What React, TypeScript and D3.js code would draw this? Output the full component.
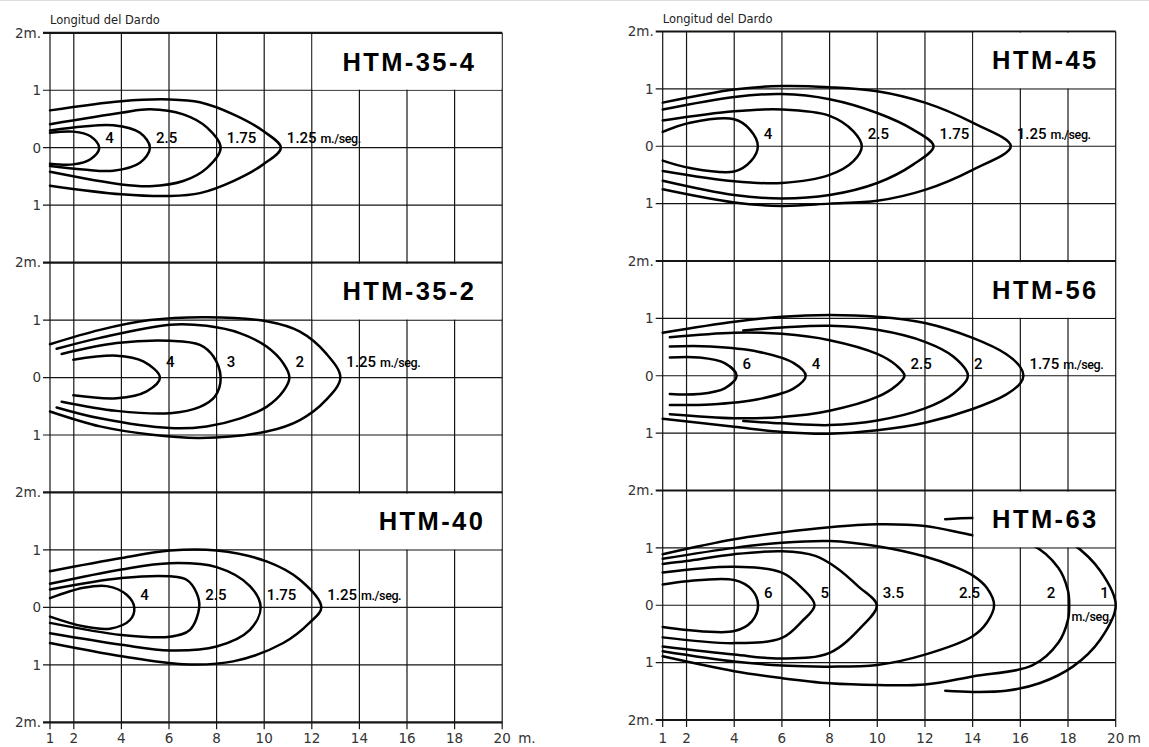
import React from "react";
import * as d3 from "d3";

type Pt = [number, number];

const X_TICKS = [1, 2, 4, 6, 8, 10, 12, 14, 16, 18, 20];
const Y_TICKS = [2, 1, 0, -1, -2];
const Y_TICK_LABELS = ["2m.", "1", "0", "1", "2m."];
const AXIS_TITLE = "Longitud del Dardo";
const UNIT = "m./seg.";

// ---------- HTM-35-4 ----------
const HTM_35_4_SPEEDS = ["4", "2.5", "1.75", "1.25"];
const HTM_35_4_TIPS = [3.07, 5.2, 8.17, 10.7];
const HTM_35_4_UPPER: Pt[][] = [
  [[1, 0.26], [1.98, 0.28], [2.7, 0.2]],
  [[1, 0.3], [2.4, 0.37], [3.66, 0.39], [4.78, 0.26]],
  [[1, 0.41], [4, 0.61], [5.2, 0.67], [6.6, 0.58], [7.6, 0.35]],
  [[1, 0.65], [4, 0.81], [6.04, 0.84], [7.3, 0.79], [8.7, 0.58], [9.96, 0.29]],
];
const HTM_35_4_LOWER: Pt[][] = [
  [[1, -0.28], [1.98, -0.29], [2.7, -0.2]],
  [[1, -0.32], [2.4, -0.38], [3.66, -0.4], [4.78, -0.26]],
  [[1, -0.42], [4, -0.64], [5.2, -0.67], [6.6, -0.58], [7.6, -0.35]],
  [[1, -0.66], [4, -0.81], [6.04, -0.84], [7.3, -0.79], [8.7, -0.58], [9.96, -0.29]],
];

// ---------- HTM-35-2 ----------
const HTM_35_2_SPEEDS = ["4", "3", "2", "1.25"];
const HTM_35_2_TIPS = [5.62, 8.17, 11.06, 13.2];
const HTM_35_2_UPPER: Pt[][] = [
  [[1.98, 0.31], [3.8, 0.38], [4.92, 0.28]],
  [[1.49, 0.41], [3.8, 0.6], [6.04, 0.64], [7.3, 0.57], [7.86, 0.37]],
  [[1.28, 0.5], [3.1, 0.69], [6.04, 0.92], [7.58, 0.9], [9.0, 0.77], [10.1, 0.54], [10.8, 0.25]],
  [[1, 0.58], [3.1, 0.83], [5.2, 1.0], [7.58, 1.05], [10.1, 0.98], [11.5, 0.8], [12.6, 0.42]],
];
const HTM_35_2_LOWER: Pt[][] = [
  [[1.98, -0.31], [3.8, -0.36], [5.06, -0.24]],
  [[1.49, -0.42], [3.8, -0.58], [6.04, -0.62], [7.3, -0.51], [7.93, -0.33]],
  [[1.28, -0.52], [3.1, -0.71], [6.04, -0.88], [7.58, -0.85], [9.0, -0.71], [10.1, -0.51], [10.8, -0.24]],
  [[1, -0.59], [3.1, -0.85], [5.2, -0.99], [7.3, -1.05], [10.1, -0.94], [11.5, -0.74], [12.6, -0.39]],
];

// ---------- HTM-40 ----------
const HTM_40_SPEEDS = ["4", "2.5", "1.75", "1.25"];
const HTM_40_TIPS = [4.54, 7.27, 9.85, 12.4];
const HTM_40_UPPER: Pt[][] = [
  [[1, 0.16], [2.4, 0.34], [3.38, 0.37], [4.22, 0.22]],
  [[1, 0.31], [4, 0.51], [6.04, 0.54], [6.74, 0.48], [7.16, 0.25]],
  [[1, 0.41], [4, 0.66], [6.04, 0.77], [8.0, 0.7], [9.4, 0.37]],
  [[1, 0.63], [4, 0.86], [6.04, 0.99], [8.0, 0.99], [10.1, 0.8], [11.5, 0.48]],
];
const HTM_40_LOWER: Pt[][] = [
  [[1, -0.16], [2.4, -0.33], [3.52, -0.37], [4.36, -0.22]],
  [[1, -0.27], [4, -0.48], [6.04, -0.51], [6.88, -0.39]],
  [[1, -0.45], [4, -0.65], [6.04, -0.75], [8.0, -0.68], [9.4, -0.39]],
  [[1, -0.62], [4, -0.85], [6.6, -0.99], [8.7, -0.94], [10.8, -0.62], [11.9, -0.27]],
];

// ---------- HTM-45 ----------
const HTM_45_SPEEDS = ["4", "2.5", "1.75", "1.25"];
const HTM_45_TIPS = [4.99, 9.35, 12.36, 15.6];
const HTM_45_UPPER: Pt[][] = [
  [[1, 0.25], [2.15, 0.41], [4, 0.47], [4.66, 0.29]],
  [[1, 0.45], [4, 0.61], [6, 0.64], [8, 0.53], [9, 0.26]],
  [[1, 0.64], [4, 0.86], [6, 0.91], [8, 0.82], [10, 0.58], [11.5, 0.29]],
  [[1, 0.76], [4, 0.99], [6, 1.05], [8, 1.03], [10, 0.96], [12, 0.76], [14, 0.41]],
];
const HTM_45_LOWER: Pt[][] = [
  [[1, -0.25], [2.15, -0.38], [4, -0.44], [4.7, -0.26]],
  [[1, -0.43], [4, -0.61], [6, -0.64], [8, -0.5], [9, -0.26]],
  [[1, -0.6], [4, -0.85], [6, -0.91], [8, -0.85], [10, -0.64], [11.5, -0.32]],
  [[1, -0.75], [4, -0.98], [6, -1.04], [8, -1.0], [10, -0.95], [12, -0.76], [14, -0.41]],
];

// ---------- HTM-56 ----------
const HTM_56_SPEEDS = ["6", "4", "2.5", "2", "1.75"];
const HTM_56_TIPS = [4.1, 7.0, 11.14, 13.8, 16.13];
const HTM_56_UPPER: Pt[][] = [
  [[1.3, 0.32], [2.5, 0.32], [3.6, 0.22]],
  [[1.3, 0.51], [3, 0.51], [5, 0.42], [6.5, 0.22]],
  [[1.3, 0.67], [4, 0.75], [6, 0.73], [8, 0.62], [10, 0.38], [10.8, 0.18]],
  [[4.38, 0.79], [6, 0.84], [8, 0.87], [10, 0.8], [12, 0.59], [13.2, 0.33]],
  [[1, 0.75], [4, 0.94], [6, 1.03], [8, 1.06], [10, 1.03], [12, 0.92], [14, 0.66], [15.4, 0.38], [16.0, 0.15]],
];
const HTM_56_LOWER: Pt[][] = [
  [[1.3, -0.32], [2.5, -0.32], [3.6, -0.22]],
  [[1.3, -0.51], [3, -0.5], [5, -0.41], [6.5, -0.22]],
  [[1.3, -0.67], [4, -0.74], [6, -0.72], [8, -0.61], [10, -0.37], [10.8, -0.17]],
  [[4.38, -0.79], [6, -0.83], [8, -0.86], [10, -0.78], [12, -0.57], [13.2, -0.31]],
  [[1, -0.75], [4, -0.89], [6, -0.98], [8, -1.01], [10, -0.95], [12, -0.82], [14, -0.58], [15.4, -0.33], [16.0, -0.13]],
];

// ---------- HTM-63 ----------
const HTM_63_SPEEDS = ["6", "5", "3.5", "2.5", "2", "1"];
const HTM_63_TIPS = [5.0, 7.37, 9.98, 14.9, 18.05, 20.0];
const HTM_63_UPPER: Pt[][] = [
  [[1, 0.36], [2, 0.42], [4, 0.44], [4.74, 0.27]],
  [[1, 0.57], [4, 0.67], [6, 0.57], [6.84, 0.3]],
  [[1, 0.72], [2, 0.77], [4, 0.89], [6, 0.94], [7.4, 0.86], [8.3, 0.65], [9.2, 0.33]],
  [[1, 0.81], [4, 1.0], [6, 1.09], [8, 1.12], [10, 1.03], [12, 0.85], [13.2, 0.68], [14, 0.52], [14.6, 0.3]],
  [[1, 0.89], [4, 1.15], [6, 1.27], [8, 1.36], [10, 1.41], [12, 1.38], [14, 1.22], [16.5, 1.05], [17.6, 0.65], [18.0, 0.25]],
  [[12.85, 1.5], [14, 1.52], [15.4, 1.49], [16.8, 1.36], [18.2, 1.07], [19.35, 0.6]],
];
const HTM_63_LOWER: Pt[][] = [
  [[1, -0.38], [2, -0.43], [4, -0.45], [4.74, -0.28]],
  [[1, -0.56], [4, -0.66], [6, -0.57], [6.84, -0.28]],
  [[1, -0.72], [4, -0.86], [6, -0.93], [8, -0.83], [9.35, -0.37]],
  [[1, -0.8], [4, -0.98], [6, -1.05], [8, -1.07], [10, -1.04], [12, -0.86], [14, -0.54], [14.6, -0.3]],
  [[1, -0.89], [4, -1.15], [6, -1.27], [8, -1.36], [10, -1.39], [12, -1.38], [14, -1.24], [16.5, -1.05], [17.6, -0.65], [18.0, -0.25]],
  [[12.85, -1.49], [14, -1.51], [15.4, -1.49], [16.8, -1.36], [18.2, -1.07], [19.35, -0.6]],
];

// ---------- layout ----------
const COLUMNS = [
  { x0: 50, x1: 502.2, top: 32.8, bottom: 722.3, boxFrom: 12, unitLabel: "m.", unitDx: 16 },
  { x0: 662.7, x1: 1115.7, top: 31.5, bottom: 720, boxFrom: 14, unitLabel: "m", unitDx: 12 },
];

const PANELS = [
  { col: 0, row: 0, name: "HTM-35-4", speeds: HTM_35_4_SPEEDS, tips: HTM_35_4_TIPS, upper: HTM_35_4_UPPER, lower: HTM_35_4_LOWER, titleX: 16.1, labelDy: 5, inside: [] as number[] },
  { col: 0, row: 1, name: "HTM-35-2", speeds: HTM_35_2_SPEEDS, tips: HTM_35_2_TIPS, upper: HTM_35_2_UPPER, lower: HTM_35_2_LOWER, titleX: 16.1, labelDy: 11, inside: [] as number[] },
  { col: 0, row: 2, name: "HTM-40", speeds: HTM_40_SPEEDS, tips: HTM_40_TIPS, upper: HTM_40_UPPER, lower: HTM_40_LOWER, titleX: 17.05, labelDy: 7.5, inside: [] as number[] },
  { col: 1, row: 0, name: "HTM-45", speeds: HTM_45_SPEEDS, tips: HTM_45_TIPS, upper: HTM_45_UPPER, lower: HTM_45_LOWER, titleX: 17.05, labelDy: 7, inside: [] as number[] },
  { col: 1, row: 1, name: "HTM-56", speeds: HTM_56_SPEEDS, tips: HTM_56_TIPS, upper: HTM_56_UPPER, lower: HTM_56_LOWER, titleX: 17.05, labelDy: 7, inside: [] as number[] },
  { col: 1, row: 2, name: "HTM-63", speeds: HTM_63_SPEEDS, tips: HTM_63_TIPS, upper: HTM_63_UPPER, lower: HTM_63_LOWER, titleX: 17.05, labelDy: 7.5, inside: [3, 4, 5] },
];

const INK = "#151515";
const LABEL_FONT = "Roboto, 'Liberation Sans', sans-serif";
const AXIS_FONT = "'DejaVu Sans', sans-serif";

function Panel({ p }: { p: (typeof PANELS)[number] }) {
  const c = COLUMNS[p.col];
  const ph = (c.bottom - c.top) / 3;
  const top = c.top + p.row * ph;
  const xs = d3.scaleLinear().domain([1, 20]).range([c.x0, c.x1]);
  const ys = d3.scaleLinear().domain([2, -2]).range([top, top + ph]);
  const line = d3
    .line<Pt>()
    .x((d) => xs(d[0]))
    .y((d) => ys(d[1]))
    .curve(d3.curveCatmullRom.alpha(0.5));
  const last = p.speeds.length - 1;
  const hasInside = p.inside.length > 0;
  return (
    <g>
      {p.upper.map((up, i) => {
        const pts: Pt[] = [...up, [p.tips[i], 0], ...p.lower[i].slice().reverse()];
        return <path key={i} d={line(pts) || ""} fill="none" stroke="#000" strokeWidth={2.5} strokeLinejoin="round" strokeLinecap="round" />;
      })}
      {p.speeds.map((s, i) => {
        const inside = p.inside.includes(i);
        const isLast = i === last;
        const tx = inside ? xs(p.tips[i]) - (isLast ? 7 : 14) : xs(p.tips[i]) + 6;
        return (
          <text key={s + i} x={tx} y={ys(0) - p.labelDy} textAnchor={inside ? "end" : "start"} fontFamily={LABEL_FONT} fontWeight={500} fontSize={15} fill="#000">
            {s}
            {isLast && !hasInside ? (
              <tspan fontSize={12.5} dx={4} letterSpacing={-0.4}>{UNIT}</tspan>
            ) : null}
          </text>
        );
      })}
      {hasInside ? (
        <text x={xs(p.tips[last]) - 4} y={ys(0) + 16} textAnchor="end" fontFamily={LABEL_FONT} fontWeight={500} fontSize={12.5} letterSpacing={-0.4} fill="#000">
          {UNIT}
        </text>
      ) : null}
      <rect x={xs(c.boxFrom) + 0.8} y={ys(2) + 1.2} width={xs(20) - xs(c.boxFrom) - 1.6} height={ys(1) - ys(2) - 1.8} fill="#fff" />
      <text x={xs(p.titleX)} y={(ys(2) + ys(1)) / 2 + 9} textAnchor="middle" fontFamily="'Liberation Sans', Arial, sans-serif" fontWeight="bold" fontSize={25.5} letterSpacing={2.4} fill="#000">
        {p.name}
      </text>
    </g>
  );
}

function Grid({ ci }: { ci: number }) {
  const c = COLUMNS[ci];
  const ph = (c.bottom - c.top) / 3;
  const xs = d3.scaleLinear().domain([1, 20]).range([c.x0, c.x1]);
  const rows = [0, 1, 2];
  return (
    <g>
      <text x={c.x0} y={c.top - 9} fontFamily={AXIS_FONT} fontSize={11.5} fill="#222">
        {AXIS_TITLE}
      </text>
      {X_TICKS.map((t) => (
        <line key={"v" + t} x1={xs(t)} x2={xs(t)} y1={c.top} y2={c.bottom + 7} stroke={INK} strokeWidth={1.2} />
      ))}
      {rows.map((r) => {
        const ys = d3.scaleLinear().domain([2, -2]).range([c.top + r * ph, c.top + (r + 1) * ph]);
        return (
          <g key={r}>
            {Y_TICKS.map((t, k) => {
              if (r > 0 && k === 0) return null;
              const thick = t === 2 || t === -2;
              return (
                <g key={k}>
                  <line x1={c.x0 - 7} x2={c.x1} y1={ys(t)} y2={ys(t)} stroke={INK} strokeWidth={thick ? 2.2 : 1.2} />
                  <text x={c.x0 - 9} y={ys(t)} dy="0.36em" textAnchor="end" fontFamily={AXIS_FONT} fontSize={13.5} fill="#333">
                    {Y_TICK_LABELS[k]}
                  </text>
                </g>
              );
            })}
          </g>
        );
      })}
      {X_TICKS.map((t) => (
        <text key={"xl" + t} x={xs(t)} y={743} textAnchor="middle" fontFamily={AXIS_FONT} fontSize={13.5} fill="#333">
          {t}
        </text>
      ))}
      <text x={xs(20) + c.unitDx} y={743} fontFamily={AXIS_FONT} fontSize={13.5} fill="#333">
        {c.unitLabel}
      </text>
    </g>
  );
}

export default function App() {
  return (
    <svg width={1149} height={747} style={{ position: "absolute", left: 0, top: 0, background: "#fff" }}>
      <rect x={0} y={0} width={1149} height={747} fill="#fff" />
      <line x1={0} x2={1149} y1={0.5} y2={0.5} stroke="#ddd" />
      <Grid ci={0} />
      <Grid ci={1} />
      {PANELS.map((p) => (
        <Panel key={p.name} p={p} />
      ))}
    </svg>
  );
}
